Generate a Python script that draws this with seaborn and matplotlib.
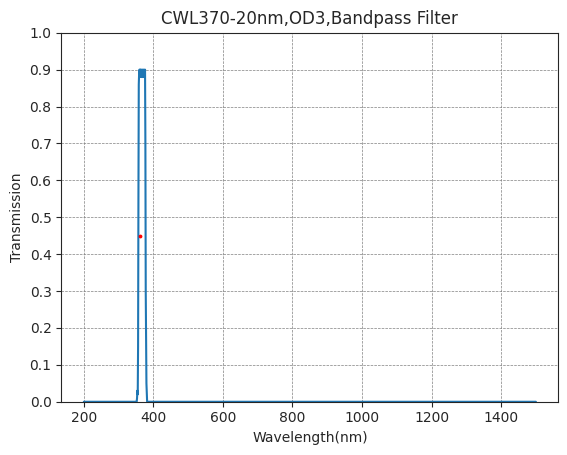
import matplotlib
matplotlib.use('Agg')
import matplotlib.pyplot as plt
import seaborn as sns

wavelength = [200, 300, 350, 352, 353, 354, 355, 356, 357, 358, 359, 360, 361, 362, 363,
              364, 365, 366, 367, 368, 369, 370, 371, 372, 373, 374, 375, 376, 377, 378,
              380, 382, 400, 600, 800, 1000, 1200, 1400, 1500]
transmission = [0.0, 0.0, 0.0, 0.0, 0.01, 0.03, 0.02, 0.15, 0.55, 0.86, 0.89, 0.90, 0.88,
                0.90, 0.89, 0.90, 0.88, 0.89, 0.90, 0.88, 0.89, 0.90, 0.89, 0.88, 0.90,
                0.89, 0.88, 0.90, 0.70, 0.30, 0.05, 0.0, 0.0, 0.0, 0.0, 0.0, 0.0, 0.0, 0.0]
cwl_point = [361]
cwl_half = [0.45]

sns.set_style('ticks')
fig, ax = plt.subplots(figsize=(5.67, 4.55), dpi=100)
sns.lineplot(x=wavelength, y=transmission, ax=ax, color='#1f77b4', linewidth=1.5)
ax.scatter(cwl_point, cwl_half, color='red', s=3, zorder=3)

ax.set_ylim(0, 1)
ax.set_yticks([i / 10 for i in range(11)])
ax.set_xlim(135, 1565)
ax.grid(True, color='gray', linestyle='--', linewidth=0.5)
ax.set_title('CWL370-20nm,OD3,Bandpass Filter')
ax.set_xlabel('Wavelength(nm)')
ax.set_ylabel('Transmission')
for s in ax.spines.values():
    s.set_visible(True)

fig.subplots_adjust(left=0.108, right=0.985, top=0.928, bottom=0.117)
fig.savefig('out.png', dpi=100)
